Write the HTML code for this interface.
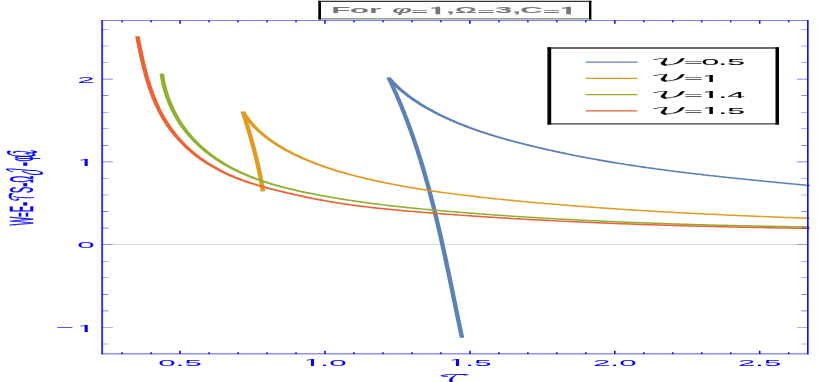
<!DOCTYPE html>
<html><head><meta charset="utf-8"><title>plot</title>
<style>html,body{margin:0;padding:0;background:#fff;}svg{display:block;}text{font-family:"Liberation Sans","DejaVu Sans",sans-serif;}.b{font-weight:bold;}.bi{font-weight:bold;font-style:italic;}.ip{font-family:"IPAGothic","Liberation Sans",sans-serif;}.ipb{font-family:"IPAGothic","Liberation Sans",sans-serif;font-weight:bold;}.m{font-family:"DejaVu Math TeX Gyre","DejaVu Serif",serif;}</style>
</head><body>
<svg width="830" height="382" viewBox="0 0 830 382">
<rect width="830" height="382" fill="#ffffff"/>
<g transform="scale(3.0,1)">
<line x1="34.050" y1="244.69" x2="269.233" y2="244.69" stroke="#d2d2d2" stroke-width="0.85"/>
<clipPath id="cp"><rect x="34.050" y="20.50" width="235.817" height="333.50"/></clipPath>
<g fill="none" stroke-width="1.5" stroke-linejoin="miter" stroke-linecap="butt" clip-path="url(#cp)">
<path d="M154.000 337.70 L153.938 336.82 L153.875 335.93 L153.813 335.05 L153.751 334.17 L153.689 333.28 L153.626 332.40 L153.564 331.51 L153.503 330.63 L153.441 329.75 L153.379 328.86 L153.317 327.98 L153.255 327.09 L153.194 326.21 L153.132 325.32 L153.071 324.44 L153.009 323.55 L152.948 322.66 L152.886 321.78 L152.825 320.89 L152.764 320.01 L152.702 319.12 L152.641 318.24 L152.580 317.35 L152.519 316.46 L152.457 315.58 L152.396 314.69 L152.335 313.80 L152.274 312.92 L152.213 312.03 L152.152 311.14 L152.091 310.26 L152.030 309.37 L151.969 308.48 L151.908 307.59 L151.847 306.71 L151.786 305.82 L151.725 304.93 L151.664 304.04 L151.603 303.16 L151.542 302.27 L151.481 301.38 L151.420 300.49 L151.359 299.60 L151.298 298.72 L151.237 297.83 L151.176 296.94 L151.115 296.05 L151.054 295.16 L150.993 294.27 L150.932 293.39 L150.871 292.50 L150.809 291.61 L150.748 290.72 L150.687 289.83 L150.626 288.94 L150.564 288.06 L150.503 287.17 L150.442 286.28 L150.380 285.39 L150.319 284.50 L150.257 283.61 L150.196 282.72 L150.134 281.83 L150.072 280.95 L150.011 280.06 L149.949 279.17 L149.887 278.28 L149.825 277.39 L149.763 276.50 L149.701 275.61 L149.639 274.72 L149.577 273.84 L149.515 272.95 L149.452 272.06 L149.390 271.17 L149.328 270.28 L149.265 269.39 L149.202 268.50 L149.140 267.62 L149.077 266.73 L149.014 265.84 L148.951 264.95 L148.888 264.06 L148.825 263.17 L148.762 262.28 L148.698 261.40 L148.635 260.51 L148.571 259.62 L148.508 258.73 L148.444 257.84 L148.380 256.96 L148.316 256.07 L148.252 255.18 L148.188 254.29 L148.123 253.40 L148.059 252.52 L147.994 251.63 L147.929 250.74 L147.865 249.85 L147.800 248.97 L147.735 248.08 L147.669 247.19 L147.604 246.31 L147.538 245.42 L147.473 244.53 L147.407 243.65 L147.341 242.76 L147.275 241.87 L147.209 240.99 L147.142 240.10 L147.076 239.21 L147.009 238.33 L146.942 237.44 L146.875 236.56 L146.808 235.67 L146.741 234.78 L146.673 233.90 L146.606 233.01 L146.538 232.13 L146.470 231.24 L146.402 230.36 L146.333 229.47 L146.265 228.59 L146.196 227.70 L146.127 226.82 L146.058 225.94 L145.989 225.05 L145.920 224.17 L145.850 223.28 L145.780 222.40 L145.710 221.52 L145.640 220.63 L145.570 219.75 L145.499 218.87 L145.428 217.98 L145.357 217.10 L145.286 216.22 L145.215 215.34 L145.143 214.46 L145.071 213.57 L144.999 212.69 L144.927 211.81 L144.854 210.93 L144.781 210.05 L144.709 209.17 L144.635 208.29 L144.562 207.41 L144.488 206.53 L144.415 205.65 L144.340 204.77 L144.266 203.89 L144.192 203.01 L144.117 202.13 L144.042 201.25 L143.966 200.37 L143.891 199.49 L143.815 198.61 L143.739 197.74 L143.663 196.86 L143.586 195.98 L143.509 195.10 L143.432 194.23 L143.355 193.35 L143.277 192.47 L143.199 191.60 L143.121 190.72 L143.043 189.84 L142.964 188.97 L142.885 188.09 L142.806 187.22 L142.727 186.34 L142.647 185.47 L142.567 184.59 L142.486 183.72 L142.406 182.85 L142.325 181.97 L142.244 181.10 L142.162 180.23 L142.080 179.36 L141.998 178.48 L141.916 177.61 L141.833 176.74 L141.750 175.87 L141.667 175.00 L141.583 174.13 L141.499 173.26 L141.415 172.39 L141.331 171.52 L141.246 170.65 L141.161 169.78 L141.075 168.91 L140.989 168.04 L140.903 167.17 L140.817 166.30 L140.730 165.44 L140.643 164.57 L140.555 163.70 L140.467 162.84 L140.379 161.97 L140.291 161.10 L140.202 160.24 L140.113 159.37 L140.023 158.51 L139.933 157.64 L139.843 156.78 L139.753 155.92 L139.662 155.05 L139.570 154.19 L139.479 153.33 L139.387 152.46 L139.294 151.60 L139.202 150.74 L139.109 149.88 L139.015 149.02 L138.921 148.16 L138.827 147.30 L138.733 146.44 L138.638 145.58 L138.542 144.72 L138.447 143.86 L138.351 143.00 L138.254 142.15 L138.157 141.29 L138.060 140.43 L137.962 139.57 L137.864 138.72 L137.766 137.86 L137.667 137.01 L137.568 136.15 L137.468 135.30 L137.368 134.44 L137.268 133.59 L137.167 132.74 L137.065 131.88 L136.964 131.03 L136.862 130.18 L136.759 129.33 L136.656 128.48 L136.553 127.63 L136.449 126.78 L136.345 125.93 L136.240 125.08 L136.135 124.23 L136.030 123.38 L135.924 122.53 L135.817 121.69 L135.710 120.84 L135.603 119.99 L135.496 119.15 L135.387 118.30 L135.279 117.46 L135.170 116.61 L135.060 115.77 L134.950 114.92 L134.840 114.08 L134.729 113.24 L134.618 112.40 L134.506 111.55 L134.394 110.71 L134.281 109.87 L134.168 109.03 L134.054 108.19 L133.940 107.35 L133.826 106.51 L133.711 105.68 L133.595 104.84 L133.479 104.00 L133.362 103.17 L133.245 102.33 L133.128 101.49 L133.010 100.66 L132.892 99.82 L132.773 98.99 L132.653 98.16 L132.533 97.32 L132.413 96.49 L132.292 95.66 L132.170 94.83 L132.048 94.00 L131.926 93.17 L131.803 92.34 L131.680 91.51 L131.556 90.68 L131.431 89.85 L131.306 89.02 L131.180 88.20 L131.054 87.37 L130.928 86.55 L130.801 85.72 L130.673 84.90 L130.545 84.07 L130.416 83.25 L130.287 82.42 L130.157 81.60 L130.027 80.78 L129.896 79.96 L129.764 79.14 L129.633 78.32 L129.500 77.50 L129.821 78.61 L130.146 79.71 L130.477 80.79 L130.811 81.86 L131.150 82.91 L131.494 83.95 L131.841 84.98 L132.193 85.99 L132.549 86.99 L132.909 87.98 L133.272 88.96 L133.639 89.92 L134.010 90.87 L134.385 91.81 L134.763 92.74 L135.145 93.65 L135.530 94.56 L135.918 95.45 L136.309 96.33 L136.703 97.20 L137.100 98.06 L137.500 98.90 L137.903 99.74 L138.309 100.57 L138.717 101.39 L139.128 102.19 L139.541 102.99 L139.956 103.78 L140.374 104.55 L140.793 105.32 L141.215 106.08 L141.639 106.83 L142.065 107.58 L142.492 108.31 L142.921 109.03 L143.352 109.75 L143.784 110.46 L144.218 111.16 L144.653 111.85 L145.089 112.54 L145.527 113.22 L145.966 113.89 L146.406 114.55 L146.847 115.21 L147.290 115.86 L147.734 116.50 L148.179 117.13 L148.625 117.76 L149.073 118.38 L149.521 118.99 L149.971 119.60 L150.421 120.20 L150.873 120.79 L151.326 121.38 L151.780 121.96 L152.235 122.54 L152.691 123.11 L153.148 123.67 L153.605 124.22 L154.064 124.77 L154.524 125.32 L154.985 125.86 L155.446 126.39 L155.909 126.92 L156.372 127.44 L156.836 127.95 L157.301 128.46 L157.767 128.97 L158.233 129.47 L158.700 129.96 L159.168 130.45 L159.637 130.94 L160.107 131.42 L160.577 131.89 L161.047 132.36 L161.519 132.83 L161.991 133.29 L162.464 133.74 L162.937 134.19 L163.411 134.64 L163.885 135.08 L164.360 135.52 L164.836 135.95 L165.312 136.38 L165.788 136.81 L166.265 137.23 L166.742 137.65 L167.220 138.06 L167.698 138.47 L168.177 138.88 L168.656 139.28 L169.135 139.68 L169.615 140.08 L170.095 140.47 L170.575 140.86 L171.056 141.25 L171.537 141.64 L172.018 142.02 L172.499 142.39 L172.981 142.77 L173.462 143.14 L173.944 143.51 L174.426 143.88 L174.908 144.24 L175.390 144.61 L175.873 144.97 L176.355 145.32 L176.838 145.68 L177.320 146.03 L177.803 146.38 L178.286 146.73 L178.769 147.08 L179.252 147.42 L179.735 147.76 L180.218 148.10 L180.702 148.44 L181.185 148.77 L181.669 149.11 L182.152 149.44 L182.636 149.76 L183.120 150.09 L183.604 150.41 L184.088 150.74 L184.572 151.06 L185.056 151.37 L185.541 151.69 L186.025 152.00 L186.510 152.31 L186.994 152.62 L187.479 152.93 L187.964 153.23 L188.448 153.54 L188.933 153.84 L189.418 154.14 L189.904 154.43 L190.389 154.73 L190.874 155.02 L191.359 155.31 L191.845 155.60 L192.330 155.89 L192.816 156.17 L193.302 156.46 L193.788 156.74 L194.274 157.02 L194.760 157.29 L195.246 157.57 L195.732 157.84 L196.218 158.12 L196.704 158.39 L197.191 158.65 L197.677 158.92 L198.164 159.19 L198.651 159.45 L199.137 159.71 L199.624 159.97 L200.111 160.23 L200.598 160.48 L201.085 160.74 L201.572 160.99 L202.059 161.24 L202.547 161.49 L203.034 161.74 L203.521 161.99 L204.009 162.23 L204.497 162.47 L204.984 162.72 L205.472 162.95 L205.960 163.19 L206.448 163.43 L206.936 163.66 L207.424 163.90 L207.912 164.13 L208.400 164.36 L208.888 164.59 L209.377 164.82 L209.865 165.04 L210.353 165.27 L210.842 165.49 L211.331 165.71 L211.819 165.93 L212.308 166.15 L212.797 166.37 L213.286 166.59 L213.775 166.80 L214.264 167.01 L214.753 167.23 L215.242 167.44 L215.731 167.65 L216.220 167.85 L216.710 168.06 L217.199 168.27 L217.689 168.47 L218.178 168.67 L218.668 168.88 L219.157 169.08 L219.647 169.27 L220.137 169.47 L220.627 169.67 L221.117 169.87 L221.607 170.06 L222.097 170.25 L222.587 170.45 L223.077 170.64 L223.567 170.83 L224.057 171.02 L224.548 171.20 L225.038 171.39 L225.528 171.58 L226.019 171.76 L226.509 171.95 L227.000 172.13 L227.491 172.31 L227.981 172.49 L228.472 172.67 L228.963 172.85 L229.454 173.03 L229.945 173.20 L230.436 173.38 L230.927 173.55 L231.418 173.73 L231.909 173.90 L232.400 174.07 L232.891 174.24 L233.382 174.41 L233.874 174.58 L234.365 174.75 L234.857 174.92 L235.348 175.09 L235.839 175.25 L236.331 175.42 L236.823 175.59 L237.314 175.75 L237.806 175.91 L238.298 176.08 L238.789 176.24 L239.281 176.40 L239.773 176.56 L240.265 176.72 L240.757 176.88 L241.249 177.04 L241.741 177.19 L242.233 177.35 L242.725 177.51 L243.217 177.66 L243.709 177.82 L244.202 177.98 L244.694 178.13 L245.186 178.28 L245.679 178.44 L246.171 178.59 L246.663 178.74 L247.156 178.89 L247.648 179.04 L248.141 179.20 L248.633 179.35 L249.126 179.50 L249.619 179.65 L250.111 179.79 L250.604 179.94 L251.097 180.09 L251.589 180.24 L252.082 180.39 L252.575 180.53 L253.068 180.68 L253.561 180.83 L254.054 180.97 L254.547 181.12 L255.039 181.26 L255.532 181.41 L256.025 181.55 L256.519 181.70 L257.012 181.84 L257.505 181.99 L257.998 182.13 L258.491 182.28 L258.984 182.42 L259.477 182.56 L259.971 182.71 L260.464 182.85 L260.957 182.99 L261.450 183.13 L261.944 183.28 L262.437 183.42 L262.931 183.56 L263.424 183.71 L263.917 183.85 L264.411 183.99 L264.904 184.13 L265.398 184.28 L265.891 184.42 L266.385 184.56 L266.878 184.70 L267.372 184.84 L267.865 184.99 L268.359 185.13 L268.852 185.27 L269.346 185.41 L269.840 185.56 L270.333 185.70" stroke="#5e81b5"/>
<path d="M87.633 191.50 L87.620 191.23 L87.606 190.95 L87.592 190.68 L87.579 190.41 L87.565 190.13 L87.551 189.86 L87.537 189.59 L87.523 189.32 L87.508 189.04 L87.494 188.77 L87.480 188.50 L87.465 188.22 L87.451 187.95 L87.436 187.68 L87.421 187.41 L87.407 187.13 L87.392 186.86 L87.377 186.59 L87.362 186.32 L87.347 186.04 L87.332 185.77 L87.316 185.50 L87.301 185.23 L87.286 184.96 L87.270 184.68 L87.255 184.41 L87.239 184.14 L87.223 183.87 L87.207 183.60 L87.192 183.32 L87.176 183.05 L87.160 182.78 L87.144 182.51 L87.127 182.24 L87.111 181.96 L87.095 181.69 L87.078 181.42 L87.062 181.15 L87.045 180.88 L87.029 180.61 L87.012 180.34 L86.995 180.06 L86.979 179.79 L86.962 179.52 L86.945 179.25 L86.928 178.98 L86.911 178.71 L86.893 178.44 L86.876 178.16 L86.859 177.89 L86.841 177.62 L86.824 177.35 L86.806 177.08 L86.789 176.81 L86.771 176.54 L86.753 176.27 L86.736 176.00 L86.718 175.73 L86.700 175.46 L86.682 175.18 L86.664 174.91 L86.645 174.64 L86.627 174.37 L86.609 174.10 L86.590 173.83 L86.572 173.56 L86.554 173.29 L86.535 173.02 L86.516 172.75 L86.498 172.48 L86.479 172.21 L86.460 171.94 L86.441 171.67 L86.422 171.40 L86.403 171.13 L86.384 170.86 L86.365 170.59 L86.346 170.32 L86.326 170.05 L86.307 169.78 L86.287 169.51 L86.268 169.24 L86.248 168.97 L86.229 168.70 L86.209 168.43 L86.189 168.16 L86.170 167.89 L86.150 167.62 L86.130 167.35 L86.110 167.08 L86.090 166.81 L86.070 166.54 L86.049 166.27 L86.029 166.00 L86.009 165.73 L85.989 165.46 L85.968 165.20 L85.948 164.93 L85.927 164.66 L85.907 164.39 L85.886 164.12 L85.865 163.85 L85.844 163.58 L85.824 163.31 L85.803 163.04 L85.782 162.77 L85.761 162.50 L85.740 162.24 L85.718 161.97 L85.697 161.70 L85.676 161.43 L85.655 161.16 L85.633 160.89 L85.612 160.62 L85.591 160.35 L85.569 160.09 L85.547 159.82 L85.526 159.55 L85.504 159.28 L85.482 159.01 L85.461 158.74 L85.439 158.47 L85.417 158.21 L85.395 157.94 L85.373 157.67 L85.351 157.40 L85.329 157.13 L85.307 156.87 L85.284 156.60 L85.262 156.33 L85.240 156.06 L85.217 155.79 L85.195 155.53 L85.172 155.26 L85.150 154.99 L85.127 154.72 L85.105 154.45 L85.082 154.19 L85.059 153.92 L85.036 153.65 L85.014 153.38 L84.991 153.12 L84.968 152.85 L84.945 152.58 L84.922 152.31 L84.899 152.04 L84.875 151.78 L84.852 151.51 L84.829 151.24 L84.806 150.98 L84.782 150.71 L84.759 150.44 L84.736 150.17 L84.712 149.91 L84.689 149.64 L84.665 149.37 L84.641 149.10 L84.618 148.84 L84.594 148.57 L84.570 148.30 L84.547 148.04 L84.523 147.77 L84.499 147.50 L84.475 147.24 L84.451 146.97 L84.427 146.70 L84.403 146.44 L84.379 146.17 L84.355 145.90 L84.330 145.64 L84.306 145.37 L84.282 145.10 L84.258 144.84 L84.233 144.57 L84.209 144.30 L84.184 144.04 L84.160 143.77 L84.135 143.50 L84.111 143.24 L84.086 142.97 L84.062 142.70 L84.037 142.44 L84.012 142.17 L83.987 141.91 L83.963 141.64 L83.938 141.37 L83.913 141.11 L83.888 140.84 L83.863 140.57 L83.838 140.31 L83.813 140.04 L83.788 139.78 L83.763 139.51 L83.738 139.24 L83.712 138.98 L83.687 138.71 L83.662 138.45 L83.637 138.18 L83.611 137.92 L83.586 137.65 L83.560 137.38 L83.535 137.12 L83.509 136.85 L83.484 136.59 L83.458 136.32 L83.433 136.06 L83.407 135.79 L83.382 135.53 L83.356 135.26 L83.330 135.00 L83.304 134.73 L83.279 134.46 L83.253 134.20 L83.227 133.93 L83.201 133.67 L83.175 133.40 L83.149 133.14 L83.123 132.87 L83.097 132.61 L83.071 132.34 L83.045 132.08 L83.019 131.81 L82.993 131.55 L82.967 131.28 L82.940 131.02 L82.914 130.75 L82.888 130.49 L82.862 130.22 L82.835 129.96 L82.809 129.69 L82.782 129.43 L82.756 129.17 L82.730 128.90 L82.703 128.64 L82.677 128.37 L82.650 128.11 L82.624 127.84 L82.597 127.58 L82.570 127.31 L82.544 127.05 L82.517 126.78 L82.490 126.52 L82.464 126.26 L82.437 125.99 L82.410 125.73 L82.383 125.46 L82.357 125.20 L82.330 124.93 L82.303 124.67 L82.276 124.41 L82.249 124.14 L82.222 123.88 L82.195 123.61 L82.168 123.35 L82.141 123.09 L82.114 122.82 L82.087 122.56 L82.060 122.29 L82.033 122.03 L82.006 121.77 L81.979 121.50 L81.951 121.24 L81.924 120.98 L81.897 120.71 L81.870 120.45 L81.843 120.18 L81.815 119.92 L81.788 119.66 L81.761 119.39 L81.733 119.13 L81.706 118.87 L81.679 118.60 L81.651 118.34 L81.624 118.08 L81.597 117.81 L81.569 117.55 L81.542 117.29 L81.514 117.02 L81.487 116.76 L81.459 116.50 L81.432 116.23 L81.404 115.97 L81.376 115.71 L81.349 115.44 L81.321 115.18 L81.294 114.92 L81.266 114.65 L81.238 114.39 L81.211 114.13 L81.183 113.87 L81.155 113.60 L81.128 113.34 L81.100 113.08 L81.072 112.81 L81.044 112.55 L81.017 112.29 L80.989 112.03 L80.961 111.76 L80.933 111.50 L81.280 113.17 L81.639 114.81 L82.009 116.42 L82.391 118.00 L82.785 119.56 L83.189 121.08 L83.603 122.57 L84.028 124.04 L84.463 125.47 L84.908 126.88 L85.362 128.27 L85.825 129.62 L86.297 130.96 L86.777 132.26 L87.266 133.54 L87.763 134.80 L88.267 136.03 L88.779 137.24 L89.297 138.42 L89.823 139.59 L90.354 140.73 L90.892 141.85 L91.436 142.94 L91.986 144.02 L92.540 145.07 L93.100 146.11 L93.665 147.13 L94.233 148.12 L94.806 149.10 L95.383 150.06 L95.963 151.00 L96.547 151.93 L97.134 152.84 L97.723 153.73 L98.316 154.60 L98.912 155.46 L99.510 156.30 L100.110 157.13 L100.713 157.95 L101.317 158.74 L101.924 159.53 L102.532 160.30 L103.143 161.06 L103.754 161.80 L104.368 162.53 L104.983 163.25 L105.600 163.95 L106.218 164.65 L106.837 165.33 L107.459 166.00 L108.081 166.65 L108.705 167.30 L109.330 167.93 L109.956 168.56 L110.584 169.17 L111.212 169.77 L111.842 170.36 L112.473 170.94 L113.105 171.51 L113.738 172.07 L114.372 172.62 L115.007 173.17 L115.643 173.70 L116.280 174.22 L116.917 174.74 L117.555 175.25 L118.194 175.75 L118.834 176.24 L119.474 176.72 L120.115 177.20 L120.756 177.67 L121.398 178.13 L122.041 178.58 L122.684 179.03 L123.327 179.47 L123.970 179.91 L124.614 180.34 L125.258 180.76 L125.903 181.18 L126.547 181.60 L127.192 182.00 L127.837 182.41 L128.483 182.80 L129.128 183.20 L129.774 183.58 L130.420 183.97 L131.066 184.34 L131.712 184.72 L132.359 185.08 L133.006 185.45 L133.653 185.80 L134.300 186.16 L134.947 186.51 L135.595 186.85 L136.243 187.19 L136.891 187.53 L137.539 187.86 L138.188 188.18 L138.836 188.51 L139.485 188.82 L140.134 189.14 L140.783 189.45 L141.433 189.76 L142.082 190.06 L142.732 190.36 L143.382 190.65 L144.032 190.94 L144.682 191.23 L145.333 191.51 L145.984 191.79 L146.634 192.07 L147.286 192.34 L147.937 192.61 L148.588 192.88 L149.240 193.15 L149.891 193.41 L150.543 193.66 L151.195 193.92 L151.848 194.17 L152.500 194.42 L153.153 194.66 L153.805 194.91 L154.458 195.15 L155.111 195.39 L155.764 195.62 L156.418 195.85 L157.071 196.08 L157.725 196.31 L158.379 196.54 L159.032 196.76 L159.687 196.98 L160.341 197.20 L160.995 197.42 L161.650 197.63 L162.304 197.85 L162.959 198.06 L163.614 198.27 L164.269 198.47 L164.924 198.68 L165.580 198.88 L166.235 199.09 L166.891 199.29 L167.546 199.49 L168.202 199.68 L168.858 199.88 L169.514 200.08 L170.170 200.27 L170.826 200.46 L171.483 200.66 L172.139 200.85 L172.796 201.04 L173.453 201.22 L174.110 201.41 L174.767 201.60 L175.424 201.78 L176.081 201.96 L176.738 202.14 L177.396 202.32 L178.053 202.50 L178.711 202.68 L179.368 202.86 L180.026 203.03 L180.684 203.21 L181.342 203.38 L182.000 203.55 L182.658 203.72 L183.316 203.89 L183.975 204.06 L184.633 204.23 L185.292 204.39 L185.950 204.56 L186.609 204.72 L187.267 204.88 L187.926 205.04 L188.585 205.20 L189.244 205.36 L189.903 205.52 L190.562 205.68 L191.221 205.83 L191.880 205.99 L192.540 206.14 L193.199 206.29 L193.858 206.44 L194.518 206.59 L195.177 206.74 L195.837 206.89 L196.497 207.04 L197.156 207.18 L197.816 207.33 L198.476 207.47 L199.136 207.61 L199.796 207.76 L200.455 207.90 L201.115 208.04 L201.775 208.18 L202.436 208.31 L203.096 208.45 L203.756 208.58 L204.416 208.72 L205.076 208.85 L205.736 208.99 L206.397 209.12 L207.057 209.25 L207.717 209.38 L208.377 209.51 L209.038 209.63 L209.698 209.76 L210.359 209.89 L211.019 210.01 L211.680 210.14 L212.340 210.26 L213.000 210.38 L213.661 210.50 L214.321 210.62 L214.982 210.74 L215.642 210.86 L216.303 210.98 L216.963 211.10 L217.624 211.21 L218.285 211.33 L218.945 211.44 L219.606 211.56 L220.266 211.67 L220.927 211.78 L221.587 211.89 L222.248 212.00 L222.908 212.11 L223.569 212.22 L224.229 212.33 L224.890 212.44 L225.550 212.54 L226.210 212.65 L226.871 212.75 L227.531 212.86 L228.192 212.96 L228.852 213.06 L229.512 213.17 L230.172 213.27 L230.833 213.37 L231.493 213.47 L232.153 213.57 L232.813 213.67 L233.473 213.76 L234.133 213.86 L234.794 213.96 L235.454 214.05 L236.113 214.15 L236.773 214.24 L237.433 214.33 L238.093 214.43 L238.753 214.52 L239.413 214.61 L240.072 214.70 L240.732 214.79 L241.391 214.88 L242.051 214.97 L242.710 215.06 L243.370 215.15 L244.029 215.23 L244.688 215.32 L245.348 215.41 L246.007 215.49 L246.666 215.58 L247.325 215.66 L247.984 215.74 L248.643 215.83 L249.301 215.91 L249.960 215.99 L250.619 216.07 L251.277 216.15 L251.936 216.23 L252.594 216.31 L253.252 216.39 L253.911 216.47 L254.569 216.55 L255.227 216.63 L255.885 216.71 L256.543 216.78 L257.200 216.86 L257.858 216.94 L258.516 217.01 L259.173 217.09 L259.830 217.16 L260.488 217.24 L261.145 217.31 L261.802 217.38 L262.459 217.46 L263.116 217.53 L263.772 217.60 L264.429 217.67 L265.086 217.74 L265.742 217.81 L266.398 217.88 L267.054 217.95 L267.710 218.02 L268.366 218.09 L269.022 218.16 L269.678 218.23 L270.333 218.30" stroke="#e19c24"/>
<path d="M53.933 73.60 L54.041 75.90 L54.166 78.20 L54.308 80.51 L54.466 82.81 L54.641 85.11 L54.833 87.40 L55.040 89.69 L55.263 91.97 L55.502 94.24 L55.757 96.50 L56.026 98.76 L56.311 100.99 L56.611 103.22 L56.926 105.42 L57.255 107.61 L57.598 109.78 L57.955 111.93 L58.327 114.06 L58.712 116.16 L59.110 118.24 L59.522 120.29 L59.947 122.31 L60.385 124.31 L60.836 126.27 L61.299 128.20 L61.774 130.10 L62.261 131.96 L62.760 133.80 L63.270 135.60 L63.791 137.37 L64.323 139.10 L64.865 140.81 L65.417 142.48 L65.979 144.13 L66.550 145.74 L67.130 147.32 L67.720 148.87 L68.317 150.38 L68.923 151.87 L69.537 153.32 L70.158 154.75 L70.787 156.14 L71.423 157.50 L72.065 158.83 L72.714 160.13 L73.369 161.40 L74.030 162.64 L74.696 163.85 L75.368 165.03 L76.045 166.18 L76.727 167.30 L77.414 168.40 L78.106 169.47 L78.803 170.51 L79.505 171.52 L80.211 172.51 L80.921 173.47 L81.636 174.41 L82.355 175.33 L83.078 176.22 L83.804 177.09 L84.535 177.93 L85.268 178.76 L86.006 179.56 L86.747 180.34 L87.490 181.11 L88.237 181.85 L88.987 182.57 L89.739 183.28 L90.495 183.97 L91.252 184.64 L92.012 185.29 L92.774 185.93 L93.539 186.55 L94.305 187.16 L95.073 187.75 L95.843 188.33 L96.614 188.90 L97.387 189.45 L98.161 189.99 L98.936 190.52 L99.712 191.04 L100.490 191.55 L101.267 192.04 L102.046 192.53 L102.825 193.01 L103.604 193.48 L104.383 193.94 L105.163 194.40 L105.943 194.85 L106.722 195.29 L107.502 195.72 L108.282 196.15 L109.063 196.57 L109.843 196.99 L110.623 197.39 L111.404 197.79 L112.184 198.19 L112.965 198.58 L113.745 198.96 L114.526 199.33 L115.307 199.70 L116.088 200.07 L116.869 200.42 L117.651 200.77 L118.432 201.12 L119.214 201.46 L119.995 201.80 L120.777 202.13 L121.559 202.45 L122.340 202.77 L123.122 203.08 L123.904 203.39 L124.686 203.70 L125.469 204.00 L126.251 204.29 L127.033 204.58 L127.816 204.87 L128.599 205.15 L129.381 205.42 L130.164 205.70 L130.947 205.97 L131.730 206.23 L132.513 206.49 L133.296 206.75 L134.079 207.00 L134.863 207.25 L135.646 207.50 L136.429 207.74 L137.213 207.98 L137.997 208.21 L138.780 208.45 L139.564 208.68 L140.348 208.90 L141.132 209.13 L141.916 209.35 L142.700 209.57 L143.484 209.78 L144.269 210.00 L145.053 210.21 L145.838 210.42 L146.622 210.62 L147.407 210.83 L148.191 211.03 L148.976 211.23 L149.761 211.43 L150.546 211.63 L151.331 211.82 L152.116 212.02 L152.901 212.21 L153.686 212.40 L154.471 212.59 L155.257 212.78 L156.042 212.96 L156.828 213.15 L157.613 213.33 L158.399 213.51 L159.184 213.69 L159.970 213.87 L160.756 214.05 L161.542 214.22 L162.328 214.40 L163.114 214.57 L163.900 214.74 L164.686 214.91 L165.472 215.08 L166.258 215.24 L167.045 215.41 L167.831 215.57 L168.618 215.73 L169.404 215.89 L170.191 216.05 L170.977 216.21 L171.764 216.37 L172.551 216.52 L173.337 216.67 L174.124 216.83 L174.911 216.98 L175.698 217.12 L176.485 217.27 L177.272 217.42 L178.059 217.56 L178.846 217.71 L179.633 217.85 L180.421 217.99 L181.208 218.13 L181.995 218.27 L182.783 218.40 L183.570 218.54 L184.358 218.67 L185.145 218.80 L185.933 218.94 L186.720 219.07 L187.508 219.19 L188.296 219.32 L189.083 219.45 L189.871 219.57 L190.659 219.70 L191.447 219.82 L192.235 219.94 L193.023 220.06 L193.811 220.18 L194.599 220.30 L195.387 220.41 L196.175 220.53 L196.963 220.64 L197.751 220.75 L198.540 220.86 L199.328 220.97 L200.116 221.08 L200.904 221.19 L201.693 221.30 L202.481 221.40 L203.270 221.51 L204.058 221.61 L204.846 221.71 L205.635 221.81 L206.424 221.91 L207.212 222.01 L208.001 222.11 L208.789 222.21 L209.578 222.30 L210.367 222.40 L211.155 222.49 L211.944 222.58 L212.733 222.67 L213.522 222.76 L214.310 222.85 L215.099 222.94 L215.888 223.03 L216.677 223.11 L217.466 223.20 L218.255 223.28 L219.044 223.36 L219.832 223.45 L220.621 223.53 L221.410 223.61 L222.199 223.69 L222.988 223.76 L223.777 223.84 L224.566 223.92 L225.355 223.99 L226.144 224.07 L226.934 224.14 L227.723 224.21 L228.512 224.28 L229.301 224.35 L230.090 224.42 L230.879 224.49 L231.668 224.56 L232.457 224.63 L233.246 224.69 L234.036 224.76 L234.825 224.82 L235.614 224.89 L236.403 224.95 L237.192 225.01 L237.981 225.07 L238.771 225.13 L239.560 225.19 L240.349 225.25 L241.138 225.31 L241.927 225.36 L242.717 225.42 L243.506 225.48 L244.295 225.53 L245.084 225.58 L245.873 225.64 L246.663 225.69 L247.452 225.74 L248.241 225.79 L249.030 225.84 L249.819 225.89 L250.608 225.94 L251.397 225.99 L252.187 226.04 L252.976 226.08 L253.765 226.13 L254.554 226.17 L255.343 226.22 L256.132 226.26 L256.921 226.31 L257.710 226.35 L258.499 226.39 L259.288 226.43 L260.077 226.47 L260.867 226.51 L261.656 226.55 L262.444 226.59 L263.233 226.63 L264.022 226.67 L264.811 226.71 L265.600 226.74 L266.389 226.78 L267.178 226.81 L267.967 226.85 L268.756 226.88 L269.545 226.92 L270.333 226.95" stroke="#8fb032"/>
<path d="M45.800 36.30 L45.958 38.75 L46.117 41.20 L46.280 43.66 L46.445 46.13 L46.613 48.61 L46.785 51.09 L46.961 53.57 L47.141 56.06 L47.327 58.55 L47.517 61.04 L47.713 63.53 L47.914 66.02 L48.122 68.51 L48.337 70.99 L48.558 73.48 L48.787 75.95 L49.023 78.42 L49.268 80.88 L49.521 83.34 L49.783 85.78 L50.055 88.22 L50.336 90.64 L50.627 93.05 L50.928 95.45 L51.240 97.84 L51.563 100.20 L51.897 102.56 L52.244 104.89 L52.603 107.21 L52.974 109.51 L53.358 111.78 L53.756 114.04 L54.167 116.27 L54.593 118.49 L55.032 120.67 L55.487 122.83 L55.956 124.97 L56.439 127.07 L56.935 129.15 L57.445 131.20 L57.968 133.22 L58.503 135.20 L59.051 137.16 L59.611 139.08 L60.182 140.97 L60.765 142.82 L61.359 144.63 L61.964 146.41 L62.578 148.14 L63.203 149.84 L63.838 151.50 L64.482 153.12 L65.135 154.69 L65.797 156.22 L66.467 157.71 L67.145 159.17 L67.832 160.59 L68.527 161.97 L69.229 163.32 L69.939 164.65 L70.656 165.94 L71.380 167.21 L72.111 168.45 L72.848 169.65 L73.592 170.83 L74.341 171.97 L75.097 173.07 L75.859 174.14 L76.626 175.18 L77.398 176.18 L78.175 177.16 L78.957 178.10 L79.744 179.02 L80.534 179.91 L81.330 180.77 L82.129 181.61 L82.931 182.43 L83.738 183.22 L84.547 183.99 L85.360 184.74 L86.175 185.47 L86.993 186.18 L87.814 186.88 L88.636 187.56 L89.461 188.22 L90.287 188.87 L91.115 189.51 L91.944 190.14 L92.774 190.75 L93.606 191.36 L94.437 191.96 L95.269 192.55 L96.102 193.14 L96.934 193.71 L97.767 194.29 L98.600 194.85 L99.434 195.41 L100.268 195.95 L101.101 196.49 L101.936 197.02 L102.770 197.54 L103.605 198.05 L104.439 198.55 L105.274 199.04 L106.110 199.52 L106.945 199.99 L107.781 200.45 L108.617 200.90 L109.453 201.34 L110.290 201.77 L111.127 202.19 L111.963 202.60 L112.801 203.00 L113.638 203.39 L114.476 203.78 L115.313 204.15 L116.151 204.51 L116.989 204.87 L117.828 205.22 L118.667 205.55 L119.505 205.88 L120.344 206.21 L121.184 206.52 L122.023 206.83 L122.863 207.13 L123.702 207.43 L124.542 207.71 L125.383 207.99 L126.223 208.27 L127.064 208.54 L127.904 208.80 L128.745 209.06 L129.587 209.31 L130.428 209.56 L131.269 209.80 L132.111 210.04 L132.953 210.28 L133.795 210.51 L134.637 210.73 L135.479 210.96 L136.322 211.17 L137.165 211.39 L138.008 211.60 L138.851 211.81 L139.694 212.02 L140.537 212.23 L141.381 212.43 L142.224 212.63 L143.068 212.83 L143.912 213.03 L144.756 213.23 L145.601 213.42 L146.445 213.62 L147.290 213.81 L148.134 214.00 L148.979 214.19 L149.824 214.38 L150.669 214.56 L151.514 214.75 L152.360 214.93 L153.205 215.11 L154.051 215.29 L154.897 215.46 L155.743 215.64 L156.589 215.82 L157.435 215.99 L158.281 216.16 L159.128 216.33 L159.974 216.50 L160.821 216.66 L161.667 216.83 L162.514 216.99 L163.361 217.15 L164.208 217.32 L165.055 217.47 L165.903 217.63 L166.750 217.79 L167.598 217.94 L168.445 218.10 L169.293 218.25 L170.141 218.40 L170.989 218.55 L171.837 218.70 L172.685 218.84 L173.533 218.99 L174.381 219.13 L175.229 219.27 L176.078 219.41 L176.926 219.55 L177.775 219.69 L178.623 219.83 L179.472 219.96 L180.321 220.10 L181.170 220.23 L182.019 220.36 L182.868 220.49 L183.717 220.62 L184.566 220.75 L185.415 220.87 L186.264 221.00 L187.113 221.12 L187.963 221.25 L188.812 221.37 L189.662 221.49 L190.511 221.60 L191.361 221.72 L192.210 221.84 L193.060 221.95 L193.910 222.07 L194.759 222.18 L195.609 222.29 L196.459 222.40 L197.309 222.51 L198.159 222.62 L199.009 222.73 L199.859 222.83 L200.709 222.94 L201.559 223.04 L202.409 223.14 L203.259 223.24 L204.109 223.34 L204.959 223.44 L205.809 223.54 L206.659 223.64 L207.509 223.73 L208.360 223.83 L209.210 223.92 L210.060 224.02 L210.910 224.11 L211.760 224.20 L212.610 224.29 L213.461 224.38 L214.311 224.46 L215.161 224.55 L216.011 224.64 L216.862 224.72 L217.712 224.80 L218.562 224.89 L219.412 224.97 L220.262 225.05 L221.112 225.13 L221.962 225.21 L222.813 225.29 L223.663 225.36 L224.513 225.44 L225.363 225.52 L226.213 225.59 L227.063 225.66 L227.913 225.74 L228.763 225.81 L229.613 225.88 L230.462 225.95 L231.312 226.02 L232.162 226.09 L233.012 226.16 L233.862 226.22 L234.711 226.29 L235.561 226.35 L236.410 226.42 L237.260 226.48 L238.109 226.54 L238.959 226.61 L239.808 226.67 L240.657 226.73 L241.507 226.79 L242.356 226.85 L243.205 226.91 L244.054 226.96 L244.903 227.02 L245.752 227.08 L246.601 227.13 L247.450 227.19 L248.298 227.24 L249.147 227.30 L249.996 227.35 L250.844 227.40 L251.692 227.45 L252.541 227.51 L253.389 227.56 L254.237 227.61 L255.085 227.66 L255.933 227.70 L256.781 227.75 L257.629 227.80 L258.477 227.85 L259.324 227.89 L260.172 227.94 L261.019 227.98 L261.866 228.03 L262.714 228.07 L263.561 228.12 L264.408 228.16 L265.254 228.20 L266.101 228.25 L266.948 228.29 L267.794 228.33 L268.641 228.37 L269.487 228.41 L270.333 228.45" stroke="#eb6235"/>
</g>
<path d="M40.713 354.0 v-1.7 M40.713 20.5 v1.7 M50.373 354.0 v-1.7 M50.373 20.5 v1.7 M60.033 354.0 v-3.3 M60.033 20.5 v3.3 M69.693 354.0 v-1.7 M69.693 20.5 v1.7 M79.353 354.0 v-1.7 M79.353 20.5 v1.7 M89.013 354.0 v-1.7 M89.013 20.5 v1.7 M98.673 354.0 v-1.7 M98.673 20.5 v1.7 M108.333 354.0 v-3.3 M108.333 20.5 v3.3 M117.993 354.0 v-1.7 M117.993 20.5 v1.7 M127.653 354.0 v-1.7 M127.653 20.5 v1.7 M137.313 354.0 v-1.7 M137.313 20.5 v1.7 M146.973 354.0 v-1.7 M146.973 20.5 v1.7 M156.633 354.0 v-3.3 M156.633 20.5 v3.3 M166.293 354.0 v-1.7 M166.293 20.5 v1.7 M175.953 354.0 v-1.7 M175.953 20.5 v1.7 M185.613 354.0 v-1.7 M185.613 20.5 v1.7 M195.273 354.0 v-1.7 M195.273 20.5 v1.7 M204.933 354.0 v-3.3 M204.933 20.5 v3.3 M214.593 354.0 v-1.7 M214.593 20.5 v1.7 M224.253 354.0 v-1.7 M224.253 20.5 v1.7 M233.913 354.0 v-1.7 M233.913 20.5 v1.7 M243.573 354.0 v-1.7 M243.573 20.5 v1.7 M253.233 354.0 v-3.3 M253.233 20.5 v3.3 M262.893 354.0 v-1.7 M262.893 20.5 v1.7" stroke="#0000ff" stroke-width="0.52" fill="none"/>
<path d="M34.050 344.04 h2.133 M269.233 344.04 h-2.133 M34.050 327.48 h3.600 M269.233 327.48 h-3.600 M34.050 310.92 h2.133 M269.233 310.92 h-2.133 M34.050 294.36 h2.133 M269.233 294.36 h-2.133 M34.050 277.81 h2.133 M269.233 277.81 h-2.133 M34.050 261.25 h2.133 M269.233 261.25 h-2.133 M34.050 244.69 h3.600 M269.233 244.69 h-3.600 M34.050 228.13 h2.133 M269.233 228.13 h-2.133 M34.050 211.57 h2.133 M269.233 211.57 h-2.133 M34.050 195.02 h2.133 M269.233 195.02 h-2.133 M34.050 178.46 h2.133 M269.233 178.46 h-2.133 M34.050 161.90 h3.600 M269.233 161.90 h-3.600 M34.050 145.34 h2.133 M269.233 145.34 h-2.133 M34.050 128.78 h2.133 M269.233 128.78 h-2.133 M34.050 112.23 h2.133 M269.233 112.23 h-2.133 M34.050 95.67 h2.133 M269.233 95.67 h-2.133 M34.050 79.11 h3.600 M269.233 79.11 h-3.600 M34.050 62.55 h2.133 M269.233 62.55 h-2.133 M34.050 45.99 h2.133 M269.233 45.99 h-2.133 M34.050 29.44 h2.133 M269.233 29.44 h-2.133" stroke="#0000ff" stroke-width="0.62" stroke-opacity="0.62" fill="none"/>
<path d="M34.050 20.2 V354.35" stroke="#0000ff" stroke-width="0.64" stroke-opacity="0.82" fill="none"/>
<path d="M269.283 20.2 V354.35" stroke="#0000ff" stroke-width="0.52" fill="none"/>
<path d="M33.717 20.5 H269.533" stroke="#0000ff" stroke-width="0.55" fill="none"/>
<path d="M33.717 353.9 H269.533" stroke="#0000ff" stroke-opacity="0.85" stroke-width="0.58" fill="none"/>
<rect x="106.500" y="1.3" width="90.300" height="17.6" fill="#fdfdfd"/>
<path d="M106.100 1.35 H197.133" stroke="#000" stroke-opacity="0.8" stroke-width="1.15" fill="none"/>
<path d="M106.100 18.9 H197.133" stroke="#1a1a10" stroke-opacity="0.55" stroke-width="1.4" fill="none"/>
<path d="M106.550 0.8 V19.6" stroke="#000" stroke-width="0.900" fill="none"/>
<path d="M196.733 0.8 V19.6" stroke="#000" stroke-width="0.800" fill="none"/>
<rect x="183.067" y="48.0" width="76.000" height="75.90" fill="#ffffff"/>
<path d="M182.467 48.0 H259.667 M182.467 123.9 H259.667" stroke="#000" stroke-opacity="0.78" stroke-width="1.35" fill="none"/>
<path d="M183.100 47.3 V124.6" stroke="#000" stroke-width="1.267" fill="none"/>
<path d="M259.083 47.3 V124.6" stroke="#000" stroke-width="1.167" fill="none"/>
<line x1="195.233" y1="62.10" x2="212.500" y2="62.10" stroke="#5e81b5" stroke-width="1.25"/>
<line x1="195.233" y1="78.35" x2="212.500" y2="78.35" stroke="#e19c24" stroke-width="1.25"/>
<line x1="195.233" y1="94.60" x2="212.500" y2="94.60" stroke="#8fb032" stroke-width="1.25"/>
<line x1="195.233" y1="110.85" x2="212.500" y2="110.85" stroke="#eb6235" stroke-width="1.25"/>
</g>
<text transform="translate(0,366.0) scale(3.229,1)" font-size="9.7" fill="#0000ff"><tspan x="49.034">0</tspan><tspan x="54.331" font-size="13" textLength="2.709" lengthAdjust="spacingAndGlyphs">.</tspan><tspan x="57.124">5</tspan></text>
<text transform="translate(0,366.0) scale(3.229,1)" font-size="9.7" fill="#0000ff"><tspan x="93.601" dy="0.45" font-size="9.6" class="ip" textLength="6.000" lengthAdjust="spacingAndGlyphs">1</tspan><tspan x="99.206" dy="-0.45" font-size="13" textLength="2.709" lengthAdjust="spacingAndGlyphs">.</tspan><tspan x="101.999">0</tspan></text>
<text transform="translate(0,366.0) scale(3.229,1)" font-size="9.7" fill="#0000ff"><tspan x="138.476" dy="0.45" font-size="9.6" class="ip" textLength="6.000" lengthAdjust="spacingAndGlyphs">1</tspan><tspan x="144.081" dy="-0.45" font-size="13" textLength="2.709" lengthAdjust="spacingAndGlyphs">.</tspan><tspan x="146.873">5</tspan></text>
<text transform="translate(0,366.0) scale(3.229,1)" font-size="9.7" fill="#0000ff"><tspan x="183.658">2</tspan><tspan x="188.955" font-size="13" textLength="2.709" lengthAdjust="spacingAndGlyphs">.</tspan><tspan x="191.748">0</tspan></text>
<text transform="translate(0,366.0) scale(3.229,1)" font-size="9.7" fill="#0000ff"><tspan x="228.533">2</tspan><tspan x="233.830" font-size="13" textLength="2.709" lengthAdjust="spacingAndGlyphs">.</tspan><tspan x="236.622">5</tspan></text>
<text transform="translate(0,82.71) scale(3.229,1)" font-size="9.7" fill="#0000ff"><tspan x="23.908">2</tspan></text>
<text transform="translate(0,165.5) scale(3.229,1)" font-size="9.7" fill="#0000ff"><tspan x="23.543" dy="0.25" font-size="9.2" class="ip" textLength="5.980" lengthAdjust="spacingAndGlyphs">1</tspan></text>
<text transform="translate(0,248.29) scale(3.229,1)" font-size="9.7" fill="#0000ff"><tspan x="23.908">0</tspan></text>
<text transform="translate(0,331.28) scale(3.229,1)" font-size="9.7" fill="#0000ff"><tspan x="17.360">−</tspan><tspan x="21.679"> </tspan><tspan x="23.543" dy="0.25" font-size="9.2" class="ip" textLength="5.980" lengthAdjust="spacingAndGlyphs">1</tspan></text>
<text transform="translate(454.6,381.9) scale(3.0,1)" text-anchor="middle" font-size="10.7" fill="#0000ff" stroke="#0000ff" stroke-width="0.12" class="m">𝒯</text>
<text transform="translate(33.2,225.5) scale(3.6,1) rotate(-90)" font-size="9.3" fill="#0000ff" stroke="#0000ff" stroke-width="0.14"><tspan x="-0.04">W</tspan><tspan x="8.73" font-size="7.5">=</tspan><tspan x="13.14">E</tspan><tspan x="19.54" dy="0.92" font-size="12.5">-</tspan><tspan x="24.31" dy="-0.57" font-size="8.6" class="m">𝒯</tspan><tspan x="32.38" dy="-0.35">S</tspan><tspan x="38.84" dy="0.92" font-size="12.5">-</tspan><tspan x="42.80" dy="-0.92">Ω</tspan><tspan x="49.82" dy="0.35" font-size="9.8" class="m">𝒥</tspan><tspan x="59.24" dy="0.57" font-size="12.5">-</tspan><tspan x="63.91" dy="-0.92">φ</tspan><tspan x="67.82" dy="0.35" font-size="9.8" class="m">𝒬</tspan></text>
<text transform="translate(0,13.15) scale(3.3,1)" font-size="9.6" fill="#757575"><tspan x="100.358" class="b">F</tspan><tspan x="105.989" class="b">o</tspan><tspan x="111.822" class="b">r</tspan><tspan x="116.061" class="b"> </tspan><tspan x="118.791" class="bi" textLength="6.079" lengthAdjust="spacingAndGlyphs">φ</tspan><tspan x="124.540" dy="0.50" font-size="7.8" class="b" textLength="5.193" lengthAdjust="spacingAndGlyphs">=</tspan><tspan x="129.566" dy="-0.05" font-size="9.5" class="ipb" textLength="5.938" lengthAdjust="spacingAndGlyphs">1</tspan><tspan x="135.167" dy="-0.45" class="b">,</tspan><tspan x="137.847" class="b" textLength="6.619" lengthAdjust="spacingAndGlyphs">Ω</tspan><tspan x="144.692" dy="0.50" font-size="7.8" class="b" textLength="5.193" lengthAdjust="spacingAndGlyphs">=</tspan><tspan x="149.962" dy="-0.50" class="b">3</tspan><tspan x="155.227" class="b">,</tspan><tspan x="157.576" class="b">C</tspan><tspan x="164.510" dy="0.50" font-size="7.8" class="b" textLength="5.193" lengthAdjust="spacingAndGlyphs">=</tspan><tspan x="169.203" dy="-0.05" font-size="9.5" class="ipb" textLength="5.938" lengthAdjust="spacingAndGlyphs">1</tspan></text>
<text transform="translate(0,65.1) scale(3.4,1)" font-size="9.4" fill="#000" stroke="#000" stroke-width="0.08"><tspan x="191.127" font-size="8.5" class="m" textLength="11.237" lengthAdjust="spacingAndGlyphs">𝒱</tspan><tspan x="201.276">=</tspan><tspan x="206.353">0</tspan><tspan x="211.286" font-size="12.5" textLength="2.605" lengthAdjust="spacingAndGlyphs">.</tspan><tspan x="213.879">5</tspan></text>
<text transform="translate(0,81.4) scale(3.4,1)" font-size="9.4" fill="#000" stroke="#000" stroke-width="0.08"><tspan x="191.127" font-size="8.5" class="m" textLength="11.237" lengthAdjust="spacingAndGlyphs">𝒱</tspan><tspan x="201.276">=</tspan><tspan x="206.119" dy="0.45" font-size="9.3" class="ip" textLength="5.812" lengthAdjust="spacingAndGlyphs">1</tspan></text>
<text transform="translate(0,97.7) scale(3.4,1)" font-size="9.4" fill="#000" stroke="#000" stroke-width="0.08"><tspan x="191.127" font-size="8.5" class="m" textLength="11.237" lengthAdjust="spacingAndGlyphs">𝒱</tspan><tspan x="201.276">=</tspan><tspan x="206.119" dy="0.45" font-size="9.3" class="ip" textLength="5.812" lengthAdjust="spacingAndGlyphs">1</tspan><tspan x="211.286" dy="-0.45" font-size="12.5" textLength="2.605" lengthAdjust="spacingAndGlyphs">.</tspan><tspan x="213.879">4</tspan></text>
<text transform="translate(0,114.0) scale(3.4,1)" font-size="9.4" fill="#000" stroke="#000" stroke-width="0.08"><tspan x="191.127" font-size="8.5" class="m" textLength="11.237" lengthAdjust="spacingAndGlyphs">𝒱</tspan><tspan x="201.276">=</tspan><tspan x="206.119" dy="0.45" font-size="9.3" class="ip" textLength="5.812" lengthAdjust="spacingAndGlyphs">1</tspan><tspan x="211.286" dy="-0.45" font-size="12.5" textLength="2.605" lengthAdjust="spacingAndGlyphs">.</tspan><tspan x="213.879">5</tspan></text>
</svg>
</body></html>
